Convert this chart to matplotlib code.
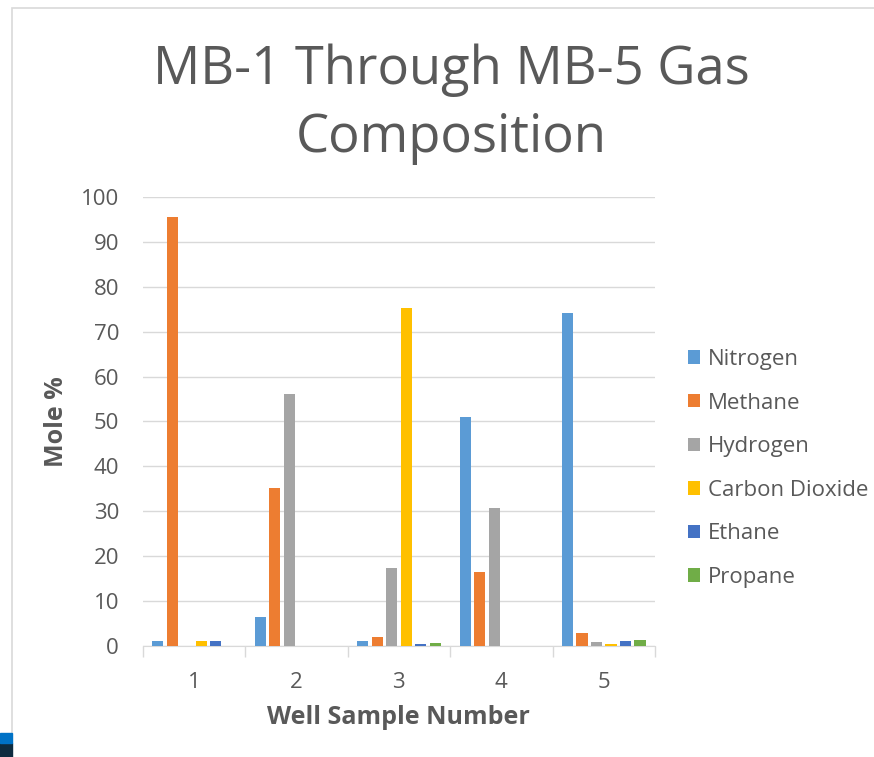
import numpy as np
import matplotlib.pyplot as plt
from matplotlib.patches import Rectangle

# data
wells = ['1', '2', '3', '4', '5']
nitrogen = [1.1, 6.5, 1.1, 51.0, 74.2]
methane = [95.5, 35.3, 1.9, 16.4, 2.8]
hydrogen = [0, 56.2, 17.4, 30.7, 0.8]
co2 = [1.1, 0, 75.3, 0, 0.5]
ethane = [1.1, 0, 0.5, 0, 1.1]
propane = [0, 0, 0.7, 0, 1.4]
series = ['Nitrogen', 'Methane', 'Hydrogen', 'Carbon Dioxide', 'Ethane', 'Propane']
colors = ['#5b9bd5', '#ed7d31', '#a5a5a5', '#ffc000', '#4472c4', '#70ad47']

plt.rcParams['font.family'] = ['Open Sans', 'DejaVu Sans']
txt = '#595959'
grid = '#d9d9d9'

fig = plt.figure(figsize=(8.74, 7.57), dpi=100)
ax = fig.add_axes([0.1633, 0.1466, 0.5861, 0.5932])

x = np.arange(1, len(wells) + 1)
pitch = 0.1415
w = 0.108
vals = [nitrogen, methane, hydrogen, co2, ethane, propane]
for i, (name, v, c) in enumerate(zip(series, vals, colors)):
    ax.bar(x + (i - 2.5) * pitch, v, w, color=c, label=name, zorder=3)

ax.set_xlim(0.5, 5.5)
ax.set_ylim(0, 100)
ax.set_yticks(range(0, 101, 10))
ax.set_xticks(x)
ax.set_xticklabels(wells)
ax.set_xticks(np.arange(0.5, 5.6, 1), minor=True)
ax.tick_params(axis='x', which='major', length=0, pad=19, labelsize=16, labelcolor=txt)
ax.tick_params(axis='x', which='minor', length=8, color=grid, width=1)
ax.tick_params(axis='y', length=0, pad=17, labelsize=16, labelcolor=txt)
ax.yaxis.grid(True, color=grid, lw=1, zorder=0)
for s in ['top', 'right', 'left']:
    ax.spines[s].set_visible(False)
ax.spines['bottom'].set_color(grid)

ax.set_ylabel('Mole %', fontsize=18, fontweight='bold', color=txt)
ax.set_xlabel('Well Sample Number', fontsize=18, fontweight='bold', color=txt)
ax.yaxis.set_label_coords(-0.168, 0.5)
ax.xaxis.set_label_coords(0.5, -0.160)
ax.yaxis.label.set_va('center')
ax.xaxis.label.set_va('center')

fig.text(451 / 874, 1 - 84 / 757, 'MB-1 Through MB-5 Gas', ha='center', va='baseline',
         fontsize=37.8, color=txt)
fig.text(451 / 874, 1 - 152 / 757, 'Composition', ha='center', va='baseline',
         fontsize=37.8, color=txt)

leg = fig.legend(loc='upper left', bbox_to_anchor=(688 / 874, 1 - 349 / 757), frameon=False,
                 fontsize=16, labelcolor=txt, handlelength=0.55, handleheight=0.55,
                 handletextpad=0.36, labelspacing=1.015, borderpad=0, borderaxespad=0)

# outer frame and screenshot corner
fig.patches.append(Rectangle((0.0137, -0.01), 1.0, 1.0 - 0.0106 + 0.01, transform=fig.transFigure,
                             fill=False, edgecolor=grid, lw=1.2))
fig.patches.append(Rectangle((0, 0.0), 0.0137, 0.0185, transform=fig.transFigure, color='#0e2c40'))
fig.patches.append(Rectangle((0, 0.0185), 0.0137, 0.013, transform=fig.transFigure, color='#0072c6'))

fig.savefig('out.png', dpi=100)
